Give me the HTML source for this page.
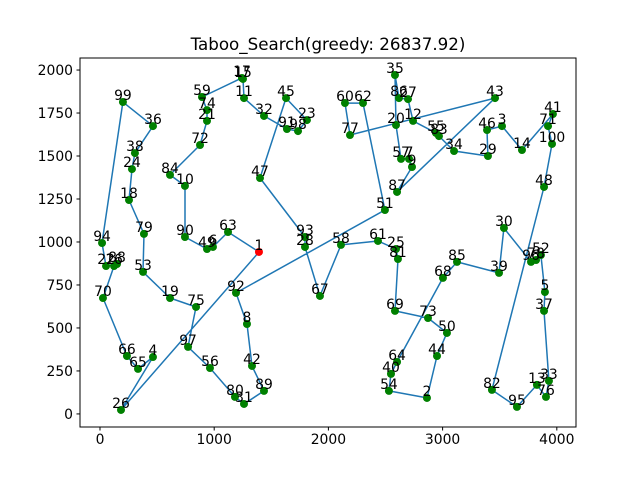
<!DOCTYPE html>
<html><head><meta charset="utf-8"><style>
body{margin:0;background:#fff}
svg{display:block;font-family:"DejaVu Sans","Liberation Sans",sans-serif}
</style></head><body>
<svg id="chart" width="640" height="480" viewBox="0 0 640 480" xmlns="http://www.w3.org/2000/svg">
<rect width="640" height="480" fill="#fff"/>
<text x="328" y="50" font-size="16.7" text-anchor="middle">Taboo_Search(greedy: 26837.92)</text>
<g id="axes"></g>
<g id="plot"></g>
<rect x="80" y="58" width="496" height="369" fill="none" stroke="#000" stroke-width="1"/>
</svg>
<script>
const cityX=[1392,2863,3520,464,3896,989,2706,1287,2732,744,1261,2741,3826,3695,1252,123,1243,254,613,2592,937,53,1812,280,2592,184,2697,1795,3397,3537,1261,1436,3931,3100,2583,464,3888,306,3494,2548,3966,1331,3459,2951,1629,3389,1401,3888,937,3038,2495,3861,377,2530,2942,963,2636,2110,893,2145,2434,2303,1121,2601,333,236,1926,3003,2583,26,3923,876,2872,937,841,3905,2189,3818,385,1182,2609,3432,2968,613,3126,2618,2601,149,1436,744,1637,1191,1795,18,3651,3774,771,1734,201,3958];
const cityY=[942,93,1674,331,709,971,1483,523,1436,1326,1837,1704,169,1535,1948,860,1954,1244,674,1680,1704,860,1709,1424,959,23,1831,971,1500,1081,58,1733,192,1529,1971,1674,599,1517,820,233,1744,279,1837,337,1837,1651,1372,1320,959,471,1186,924,826,134,1634,267,1483,983,1843,1808,1006,1808,1058,302,262,337,686,791,599,674,1674,1564,558,1767,622,99,1622,895,1047,99,901,140,1616,1390,884,1837,1291,872,134,1029,1657,704,1029,994,41,884,390,1645,1814,1570];
const tour=[1,63,6,49,90,10,84,72,21,74,59,17,15,11,32,91,98,23,45,47,93,28,67,58,61,25,81,69,73,50,44,2,54,40,64,68,85,39,30,96,78,52,5,37,33,76,13,95,82,48,100,71,41,14,3,46,29,34,83,55,12,27,86,35,20,57,7,9,87,43,77,60,62,51,92,8,42,89,31,80,56,97,75,19,53,79,18,24,38,36,99,94,22,88,16,70,66,65,4,26,1];
const xTicks=[0,1000,2000,3000,4000];
const yTicks=[0,250,500,750,1000,1250,1500,1750,2000];
const NS='http://www.w3.org/2000/svg';
const L=80,T=58,W=496,H=369,XMIN=-175,XMAX=4168,YMIN=-76,YMAX=2070;
const sx=v=>L+(v-XMIN)/(XMAX-XMIN)*W;
const sy=v=>T+H-(v-YMIN)/(YMAX-YMIN)*H;
function mk(tag,attrs,parent){const e=document.createElementNS(NS,tag);for(const k in attrs)e.setAttribute(k,attrs[k]);parent.appendChild(e);return e;}
const axes=document.getElementById('axes'),plot=document.getElementById('plot');
xTicks.forEach(t=>{
  const l=mk('line',{x1:sx(t),x2:sx(t),y1:T+H,y2:T+H+3.5,stroke:'#000'},axes);
  
  
  const tx=mk('text',{x:sx(t),y:T+H+17,'font-size':'13.9','text-anchor':'middle'},axes);
  tx.textContent=t;
  
  
});
yTicks.forEach(t=>{
  const l=mk('line',{x1:L-3.5,x2:L,y1:sy(t),y2:sy(t),stroke:'#000'},axes);
  
  
  const tx=mk('text',{x:L-7,y:sy(t)+5,'font-size':'13.9','text-anchor':'end'},axes);
  tx.textContent=t;
  
  
});
const pts=tour.map(c=>sx(cityX[c-1]).toFixed(1)+','+sy(cityY[c-1]).toFixed(1)).join(' ');
const pl=mk('polyline',{points:pts,fill:'none',stroke:'#1f77b4','stroke-width':'1.5','stroke-linejoin':'round'},plot);


cityX.forEach((x,i)=>{
  const c=mk('circle',{cx:sx(x),cy:sy(cityY[i]),r:4,fill:i===0?'#ff0000':'#008000'},plot);
  
  
});
cityX.forEach((x,i)=>{
  const t=mk('text',{x:sx(x),y:sy(cityY[i])-2,'font-size':'13.9','text-anchor':'middle',fill:'#000'},plot);
  t.textContent=i+1;
  
  
});
</script>
</body></html>
